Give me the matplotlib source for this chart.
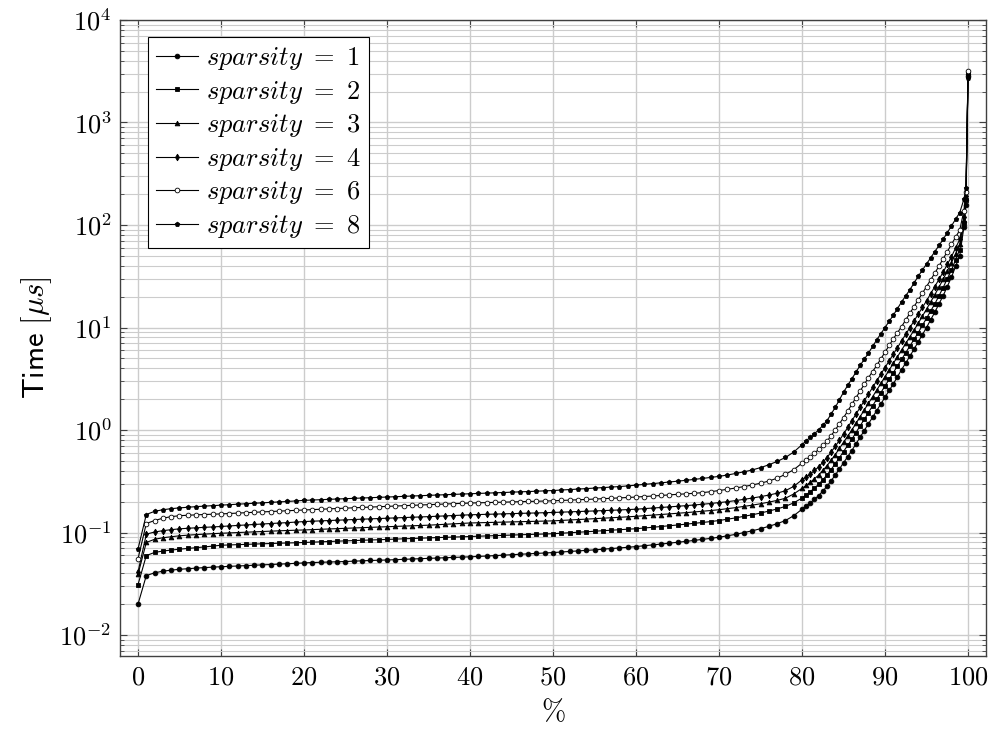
import numpy as np
import matplotlib
matplotlib.use('Agg')
import matplotlib.pyplot as plt
from matplotlib.ticker import FuncFormatter, LogLocator, NullFormatter

# percentile positions: every 1% up to 80, then every 0.5% in the tail
pct = np.concatenate([np.arange(0, 81), np.arange(80.5, 100, 0.5), [99.75, 100]])

sparsity = [1, 2, 3, 4, 6, 8]

# query time in microseconds, 0..80 %
sp1_head = [0.020, 0.038, 0.0405, 0.042, 0.043, 0.0438, 0.0444, 0.045, 0.0455, 0.046,
            0.0464, 0.0468, 0.0472, 0.0476, 0.048, 0.0484, 0.0488, 0.0492, 0.0496, 0.0501,
            0.0506, 0.051, 0.0513, 0.0516, 0.0519, 0.0522, 0.0526, 0.053, 0.0534, 0.0537,
            0.054, 0.0544, 0.0548, 0.0552, 0.0556, 0.056, 0.0564, 0.0568, 0.0572, 0.0576,
            0.058, 0.0585, 0.059, 0.0596, 0.0602, 0.0608, 0.0614, 0.062, 0.0626, 0.0632,
            0.0638, 0.0646, 0.0654, 0.0662, 0.067, 0.0678, 0.0688, 0.0698, 0.0708, 0.0718,
            0.073, 0.0744, 0.0758, 0.0772, 0.0788, 0.0804, 0.082, 0.0838, 0.0858, 0.0878,
            0.090, 0.093, 0.096, 0.100, 0.104, 0.109, 0.115, 0.122, 0.131, 0.146,
            0.169]
sp2_head = [0.031, 0.0596, 0.064, 0.066, 0.0675, 0.0688, 0.070, 0.0712, 0.0724, 0.0738,
            0.0752, 0.0757, 0.0762, 0.0767, 0.0772, 0.0777, 0.0782, 0.0787, 0.0791, 0.0795,
            0.080, 0.0806, 0.0812, 0.0818, 0.0824, 0.083, 0.0835, 0.0841, 0.0846, 0.0851,
            0.0857, 0.0863, 0.0869, 0.0875, 0.0881, 0.0887, 0.0893, 0.0898, 0.0904, 0.0909,
            0.0915, 0.0921, 0.0927, 0.0933, 0.0939, 0.0945, 0.0951, 0.0957, 0.0963, 0.0968,
            0.0974, 0.0985, 0.0996, 0.1007, 0.1018, 0.103, 0.1042, 0.1054, 0.1066, 0.1078,
            0.109, 0.1108, 0.1126, 0.1145, 0.1165, 0.1185, 0.1207, 0.123, 0.1254, 0.128,
            0.131, 0.135, 0.139, 0.144, 0.149, 0.155, 0.162, 0.170, 0.180, 0.195,
            0.217]
sp3_head = [0.039, 0.080, 0.086, 0.089, 0.091, 0.093, 0.0943, 0.0955, 0.0965, 0.0975,
            0.0984, 0.0992, 0.100, 0.1008, 0.1016, 0.1024, 0.1032, 0.104, 0.1047, 0.1054,
            0.106, 0.1068, 0.1076, 0.1084, 0.1092, 0.110, 0.1108, 0.1116, 0.1124, 0.1132,
            0.114, 0.1148, 0.1156, 0.1164, 0.1172, 0.118, 0.1192, 0.1204, 0.1216, 0.1228,
            0.124, 0.1246, 0.1252, 0.1258, 0.1264, 0.127, 0.1276, 0.1282, 0.1288, 0.1294,
            0.130, 0.1313, 0.1326, 0.1339, 0.1352, 0.1366, 0.138, 0.1394, 0.1408, 0.1424,
            0.144, 0.146, 0.148, 0.150, 0.152, 0.1542, 0.1564, 0.1588, 0.1614, 0.164,
            0.167, 0.171, 0.175, 0.180, 0.185, 0.191, 0.198, 0.206, 0.216, 0.238,
            0.270]
sp4_head = [0.041, 0.0964, 0.1013, 0.1043, 0.1067, 0.1087, 0.1101, 0.1113, 0.1124, 0.1135,
            0.1146, 0.116, 0.1173, 0.1186, 0.1199, 0.1212, 0.1225, 0.1238, 0.125, 0.1265,
            0.128, 0.129, 0.130, 0.131, 0.132, 0.133, 0.134, 0.135, 0.136, 0.137,
            0.138, 0.139, 0.140, 0.141, 0.142, 0.143, 0.1442, 0.1454, 0.1466, 0.1478,
            0.149, 0.1498, 0.1506, 0.1514, 0.1522, 0.153, 0.1538, 0.1546, 0.1554, 0.1562,
            0.157, 0.1581, 0.1592, 0.1603, 0.1614, 0.1625, 0.1637, 0.1649, 0.1661, 0.1675,
            0.169, 0.1712, 0.1734, 0.1756, 0.178, 0.1804, 0.183, 0.1858, 0.1888, 0.192,
            0.196, 0.200, 0.205, 0.211, 0.217, 0.224, 0.232, 0.242, 0.256, 0.282,
            0.327]
sp6_head = [0.0553, 0.1225, 0.131, 0.138, 0.143, 0.146, 0.1475, 0.1488, 0.150, 0.151,
            0.152, 0.1534, 0.1548, 0.1562, 0.1576, 0.159, 0.1604, 0.1618, 0.1632, 0.1646,
            0.166, 0.1674, 0.1688, 0.1702, 0.1716, 0.173, 0.1744, 0.1758, 0.1772, 0.1786,
            0.180, 0.1814, 0.1828, 0.1842, 0.1856, 0.187, 0.1884, 0.1898, 0.1912, 0.1926,
            0.194, 0.195, 0.196, 0.197, 0.198, 0.199, 0.200, 0.201, 0.202, 0.203,
            0.204, 0.2056, 0.2072, 0.2088, 0.2104, 0.2122, 0.214, 0.2158, 0.2178, 0.2198,
            0.222, 0.2246, 0.2272, 0.230, 0.233, 0.236, 0.2385, 0.2415, 0.245, 0.2505,
            0.257, 0.264, 0.272, 0.281, 0.291, 0.303, 0.318, 0.339, 0.370, 0.410,
            0.476]
sp8_head = [0.0689, 0.150, 0.161, 0.167, 0.171, 0.174, 0.1765, 0.179, 0.181, 0.183,
            0.185, 0.187, 0.189, 0.191, 0.193, 0.195, 0.197, 0.199, 0.201, 0.2035,
            0.206, 0.2076, 0.2092, 0.2108, 0.2124, 0.214, 0.2156, 0.2172, 0.2188, 0.2204,
            0.222, 0.2237, 0.2254, 0.2271, 0.2288, 0.2305, 0.2322, 0.2339, 0.2356, 0.2373,
            0.239, 0.2407, 0.2424, 0.2441, 0.2458, 0.2476, 0.2494, 0.2512, 0.253, 0.255,
            0.257, 0.2598, 0.2626, 0.2654, 0.2684, 0.2714, 0.2744, 0.2776, 0.281, 0.285,
            0.290, 0.295, 0.300, 0.3055, 0.311, 0.317, 0.323, 0.330, 0.337, 0.345,
            0.353, 0.364, 0.377, 0.391, 0.408, 0.430, 0.458, 0.494, 0.540, 0.610,
            0.720]

# query time in microseconds, 80.5..100 %
sp1_tail = [0.182, 0.195, 0.211, 0.229, 0.254, 0.282, 0.320, 0.363, 0.417, 0.479,
            0.550, 0.631, 0.733, 0.851, 0.989, 1.15, 1.33, 1.55, 1.80, 2.09,
            2.43, 2.82, 3.31, 3.89, 4.52, 5.25, 6.17, 7.24, 8.51, 10.0,
            11.9, 14.1, 17.0, 20.4, 25.1, 30.9, 39.4, 50.1, 95.5, 158, 2820]
sp2_tail = [0.234, 0.251, 0.272, 0.295, 0.327, 0.363, 0.412, 0.468, 0.537, 0.617,
            0.708, 0.813, 0.944, 1.10, 1.27, 1.48, 1.72, 2.0, 2.32, 2.69,
            3.13, 3.63, 4.22, 4.90, 5.69, 6.61, 7.67, 8.91, 10.5, 12.3,
            14.5, 17.0, 20.4, 24.5, 29.9, 36.3, 45.7, 57.5, 105, 174, 3020]
sp3_tail = [0.288, 0.309, 0.335, 0.363, 0.403, 0.447, 0.507, 0.575, 0.661, 0.759,
            0.871, 1.0, 1.16, 1.35, 1.57, 1.82, 2.11, 2.45, 2.85, 3.31,
            3.85, 4.47, 5.19, 6.03, 7.00, 8.13, 9.44, 11.0, 12.9, 15.1,
            17.8, 20.9, 24.8, 29.5, 35.5, 42.7, 52.5, 64.6, 112, 182, 3090]
sp4_tail = [0.347, 0.372, 0.403, 0.437, 0.484, 0.537, 0.610, 0.692, 0.794, 0.912,
            1.06, 1.23, 1.43, 1.66, 1.93, 2.24, 2.60, 3.02, 3.51, 4.07,
            4.73, 5.50, 6.38, 7.41, 8.61, 10.0, 11.6, 13.5, 15.7, 18.2,
            21.4, 25.1, 29.5, 34.7, 41.2, 49.0, 59.6, 72.4, 120, 191, 2880]
sp6_tail = [0.513, 0.550, 0.596, 0.646, 0.708, 0.776, 0.881, 1.0, 1.15, 1.32,
            1.53, 1.78, 2.07, 2.40, 2.79, 3.24, 3.72, 4.27, 4.95, 5.75,
            6.68, 7.76, 8.91, 10.2, 11.9, 13.8, 16.0, 18.6, 21.6, 25.1,
            29.2, 33.9, 39.8, 46.8, 55.0, 64.6, 75.9, 89.1, 138, 209, 3160]
sp8_tail = [0.785, 0.851, 0.923, 1.0, 1.11, 1.23, 1.43, 1.66, 1.97, 2.34,
            2.72, 3.16, 3.67, 4.27, 4.90, 5.62, 6.53, 7.59, 8.71, 10.0,
            11.5, 13.2, 15.3, 17.8, 20.4, 23.4, 27.2, 31.6, 36.3, 41.7,
            47.9, 55.0, 63.1, 72.4, 84.1, 97.7, 114, 132, 178, 229, 2690]

series = [sp1_head + sp1_tail, sp2_head + sp2_tail, sp3_head + sp3_tail,
          sp4_head + sp4_tail, sp6_head + sp6_tail, sp8_head + sp8_tail]
markers = [('o', 'k'), ('s', 'k'), ('^', 'k'), ('d', 'k'), ('o', 'w'), ('p', 'k')]

plt.rcParams['mathtext.fontset'] = 'cm'
plt.rcParams['font.family'] = 'serif'
plt.rcParams['font.serif'] = ['DejaVu Serif']

fig = plt.figure(figsize=(9.94, 7.38), dpi=100)
ax = fig.add_axes([0.1207, 0.111, 0.8713, 0.862])

for s, y, (m, fc) in zip(sparsity, series, markers):
  ax.plot(pct, y, color='k', lw=0.8, marker=m, ms=3.4, mfc=fc, mec='k', mew=0.6,
          label=r'$sparsity\ =\ %d$' % s)

ax.set_yscale('log')
ax.set_xlim(-2.17, 102.17)
ax.set_ylim(6.24e-3, 1e4)

ax.set_xticks(range(0, 101, 10))
ax.xaxis.set_major_formatter(FuncFormatter(lambda v, p: r'$%d$' % v))
ax.set_yticks([1e-2, 1e-1, 1e0, 1e1, 1e2, 1e3, 1e4])
ax.yaxis.set_minor_locator(LogLocator(base=10, subs=np.arange(2, 10), numticks=20))
ax.yaxis.set_major_formatter(FuncFormatter(lambda v, p: r'$10^{%d}$' % round(np.log10(v))))
ax.yaxis.set_minor_formatter(NullFormatter())
ax.set_ylim(6.24e-3, 1e4)

ax.tick_params(which='both', direction='in', top=True, right=True, color='#404040',
               labelsize=19, pad=6)
ax.tick_params(which='major', length=5, width=0.8)
ax.tick_params(which='minor', length=3, width=0.6)

ax.grid(which='major', color='#cccccc', lw=1.0)
ax.grid(which='minor', axis='y', color='#cccccc', lw=0.8)
ax.set_axisbelow(True)
for sp in ax.spines.values():
  sp.set_color('#404040')
  sp.set_linewidth(1.0)

ax.set_xlabel(r'$\%$', fontsize=21, labelpad=6)
ax.set_ylabel(r'$\mathsf{Time}\ [\mu s]$', fontsize=22, labelpad=4)

leg = ax.legend(loc='upper left', bbox_to_anchor=(0.032, 0.973), borderaxespad=0,
                fontsize=19, fancybox=False, framealpha=1, edgecolor='k',
                handlelength=1.6, handletextpad=0.3, labelspacing=0.25,
                borderpad=0.3)
leg.get_frame().set_linewidth(0.8)

plt.savefig('out.png', dpi=100)
